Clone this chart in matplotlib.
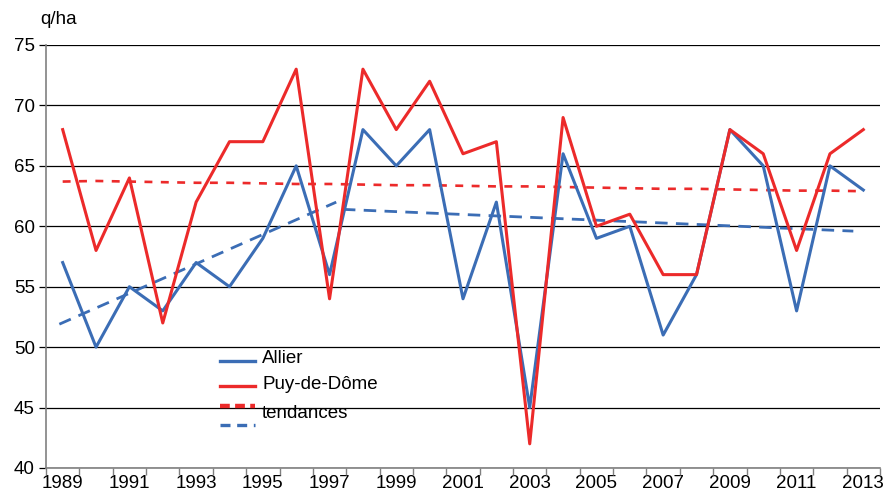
import numpy as np
import matplotlib.pyplot as plt
from matplotlib.lines import Line2D

plt.rcParams['font.family'] = ['Liberation Sans', 'DejaVu Sans']

years = list(range(1989, 2014))
allier = [57, 50, 55, 53, 57, 55, 59, 65, 56, 68, 65, 68, 54, 62, 45,
          66, 59, 60, 51, 56, 68, 65, 53, 65, 63]
puy_de_dome = [68, 58, 64, 52, 62, 67, 67, 73, 54, 73, 68, 72, 66, 67, 42,
               69, 60, 61, 56, 56, 68, 66, 58, 66, 68]

# trends
trend_puy = [63.7, 63.75, 63.7, 63.65, 63.6, 63.6, 63.55, 63.5, 63.5, 63.45, 63.4,
             63.4, 63.35, 63.3, 63.3, 63.25, 63.2, 63.15, 63.1, 63.1, 63.05, 63.0,
             62.95, 62.95, 62.9]
trend_allier_years_a = [1988.9, 1997.2]
trend_allier_a = [51.9, 62.0]
trend_allier_years_b = [1997.4, 2012.7]
trend_allier_b = [61.4, 59.6]

blue = '#3b6db5'
red = '#ec2a2a'
fs = 13.5

fig = plt.figure(figsize=(8.85, 4.92), dpi=100)
ax = fig.add_axes([46 / 885, 1 - 468 / 492, 834 / 885, 423 / 492])

ax.plot(years, trend_puy, color=red, lw=1.9, dashes=(3, 3.2))
ax.plot(trend_allier_years_a, trend_allier_a, color=blue, lw=2.0, dashes=(4.5, 3))
ax.plot(trend_allier_years_b, trend_allier_b, color=blue, lw=2.0, dashes=(4.5, 3))
ax.plot(years, allier, color=blue, lw=2.2)
ax.plot(years, puy_de_dome, color=red, lw=2.2)

ax.set_xlim(1988.5, 2013.5)
ax.set_ylim(40, 75)
ax.set_yticks(range(40, 80, 5))
ax.yaxis.grid(True, color='black', lw=0.9)
ax.set_axisbelow(True)

ax.set_xticks(years[::2])
ax.set_xticks(np.arange(1988.5, 2014, 1), minor=True)
ax.tick_params(axis='x', which='major', length=0, labelsize=fs, pad=5)
ax.tick_params(axis='x', which='minor', length=5, color='#808080', width=1)
ax.tick_params(axis='y', length=5, color='black', width=0.9, labelsize=fs, pad=3)

for s in ['top', 'right']:
    ax.spines[s].set_visible(False)
ax.spines['left'].set_color('#808080')
ax.spines['bottom'].set_color('#808080')
ax.spines['left'].set_linewidth(1.2)
ax.spines['bottom'].set_linewidth(1.2)

fig.text(40 / 885, 1 - 20 / 492, 'q/ha', fontsize=fs, va='center', ha='left')

# legend drawn by hand to stack the two trend samples
hx = [0.2086, 0.2506]
tx = 0.259
ax.add_line(Line2D(hx, [0.254, 0.254], color=blue, lw=2.4, transform=ax.transAxes))
ax.add_line(Line2D(hx, [0.194, 0.194], color=red, lw=2.4, transform=ax.transAxes))
ax.add_line(Line2D(hx, [0.147, 0.147], color=red, lw=3.2, dashes=(2.2, 1.2), transform=ax.transAxes))
ax.add_line(Line2D(hx, [0.102, 0.102], color=blue, lw=2.4, dashes=(3, 2), transform=ax.transAxes))
ax.text(tx, 0.258, 'Allier', transform=ax.transAxes, fontsize=fs, va='center')
ax.text(tx, 0.197, 'Puy-de-Dôme', transform=ax.transAxes, fontsize=fs, va='center')
ax.text(tx, 0.128, 'tendances', transform=ax.transAxes, fontsize=fs, va='center')

fig.savefig('out.png', dpi=100)
